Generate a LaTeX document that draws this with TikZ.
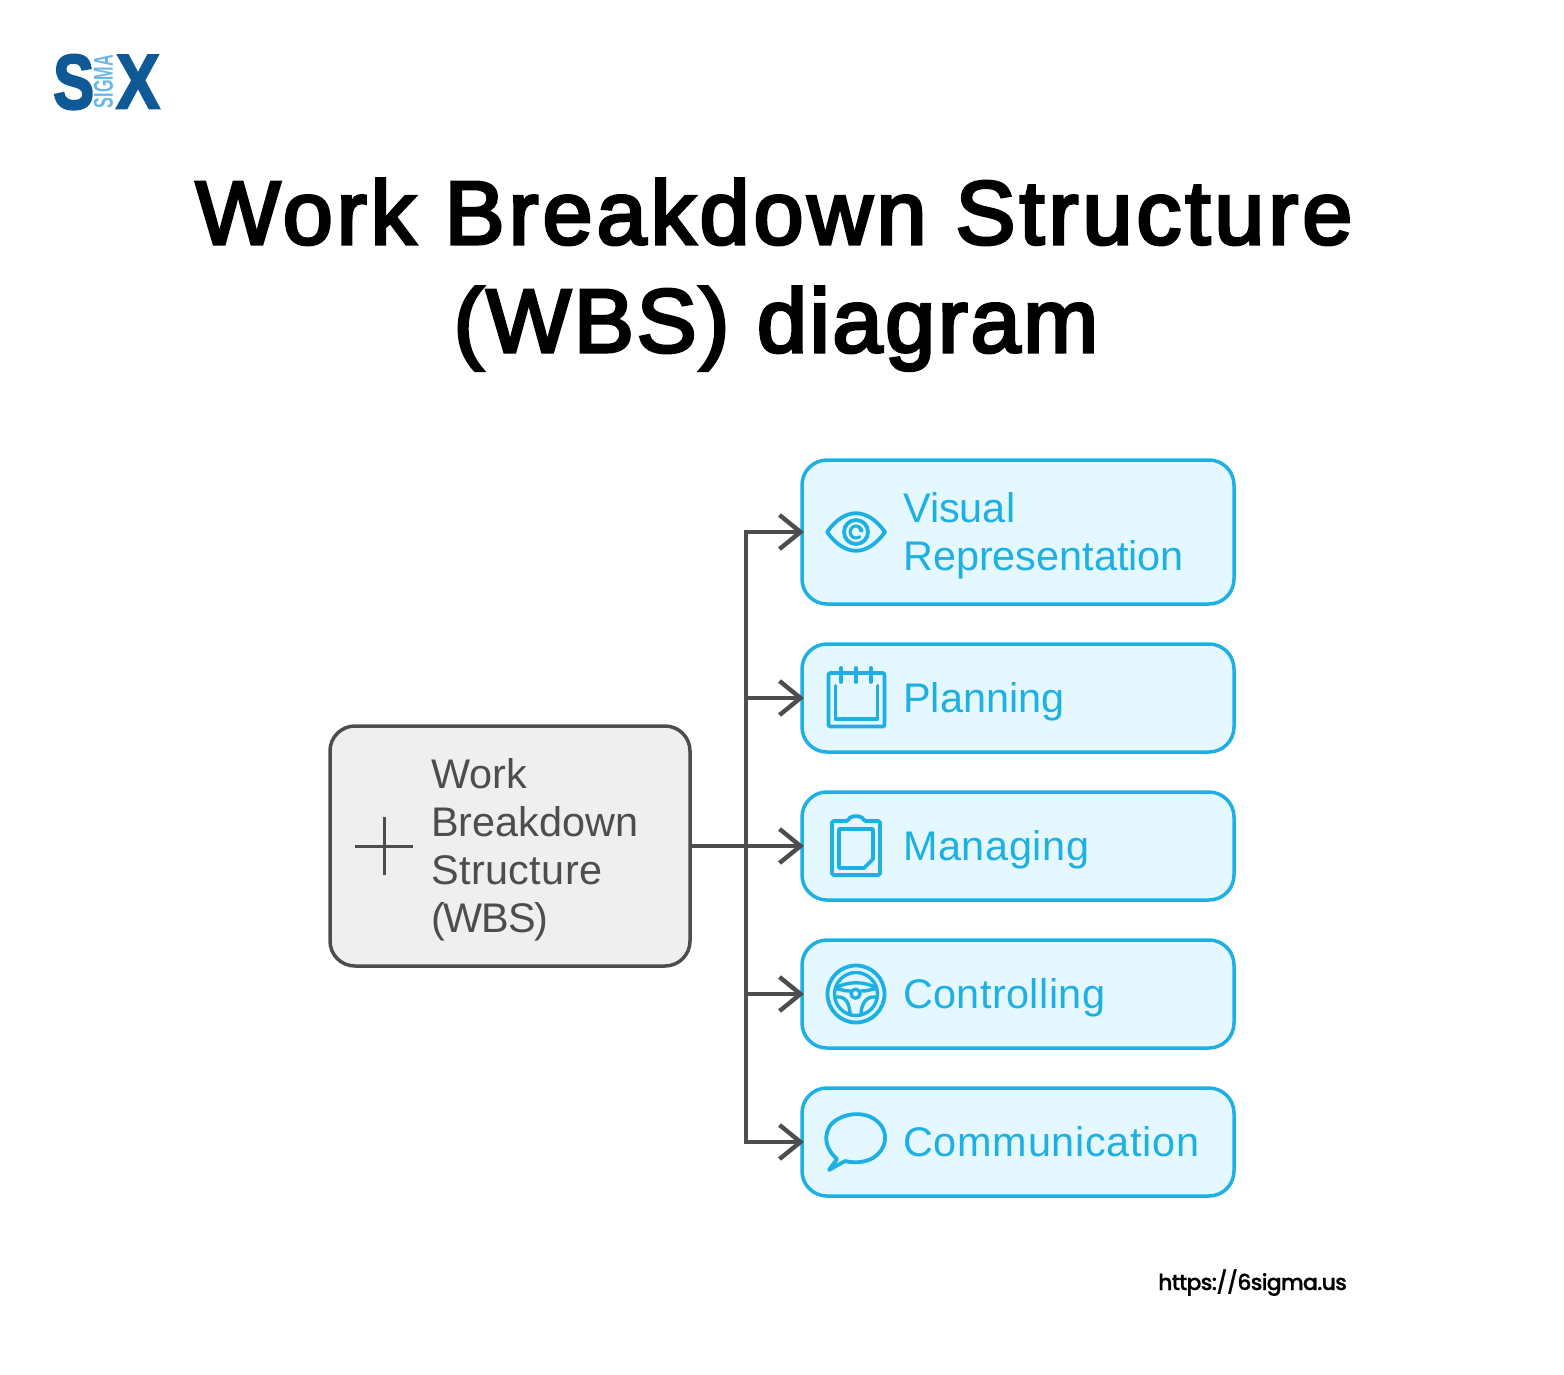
\documentclass[tikz,border=0pt]{standalone}
\usepackage{fontspec}
\usepackage{graphicx}
\usetikzlibrary{arrows.meta}
\setmainfont{Liberation Sans}
\newfontfamily\logofont[FakeBold=3]{Liberation Sans Bold}
\newfontfamily\titlefonta[FakeBold=3.5,LetterSpace=4.4]{Liberation Sans}
\newfontfamily\titlefontb[FakeBold=3.5,LetterSpace=3]{Liberation Sans}
\newfontfamily\urlfont[UprightFont=* Medium,FakeBold=0.6,LetterSpace=-3.5]{Poppins}
\definecolor{bluel}{HTML}{1EB0E3}
\definecolor{bluef}{HTML}{E5F8FF}
\definecolor{grayl}{HTML}{4D4D4D}
\definecolor{grayf}{HTML}{EFEFEF}
\definecolor{logod}{HTML}{0F5A96}
\definecolor{logol}{HTML}{6DB5E6}
\tikzset{
  leaf/.style={draw=bluel,fill=bluef,line width=3.5pt,rounded corners=25pt,minimum width=432pt,outer sep=0pt,inner sep=0pt},
  rootbox/.style={draw=grayl,fill=grayf,line width=3.5pt,rounded corners=25pt,minimum width=360pt,minimum height=240pt,outer sep=0pt,inner sep=0pt},
  leaftext/.style={anchor=west,inner sep=0pt,text=bluel,align=left,font=\fontsize{41.4}{48}\selectfont},
  roottext/.style={anchor=west,inner sep=0pt,text=grayl,align=left,font=\fontsize{41.4}{48}\selectfont},
  conn/.style={draw=grayl,line width=4pt,shorten >=-2pt,-{Straight Barb[length=21pt,width=34pt,line width=4.4pt]}},
  ico/.style={draw=bluel,line width=3.8pt,line cap=round,line join=round},
  titletext/.style={anchor=base,inner sep=0pt}
}
\newcommand{\spc}[2]{{\addfontfeature{LetterSpace=#1}#2}}
\begin{document}
\begin{tikzpicture}[x=1pt,y=-1pt]
\useasboundingbox (0,0) rectangle (1564,1374);
% logo
\node[anchor=north west,inner sep=0pt,text=logod] (logoS) at (53,54.5) {\resizebox{41pt}{54pt}{\logofont S}};
\node[anchor=north west,inner sep=0pt,text=logod] (logoX) at (116,55) {\resizebox{43.5pt}{53pt}{\logofont X}};
\node[inner sep=0pt,text=logol,rotate=90] (logoM) at (103.5,81.5) {\resizebox{53pt}{19pt}{\bfseries SIGMA}};
% title
\node[titletext,font=\titlefonta\fontsize{90}{108}\selectfont] (t1) at (774,244) {Work Breakdown Structure};
\node[titletext,font=\titlefontb\fontsize{90}{108}\selectfont] (t2) at (776,352) {(WBS) diagram};
% boxes
\node[rootbox] (root) at (510,846) {};
\node[leaf,minimum height=144pt] (vis) at (1018,532) {};
\node[leaf,minimum height=108pt] (plan) at (1018,698) {};
\node[leaf,minimum height=108pt] (man) at (1018,846) {};
\node[leaf,minimum height=108pt] (ctrl) at (1018,994) {};
\node[leaf,minimum height=108pt] (comm) at (1018,1142) {};
% texts
\node[roottext] (rootlabel) at (431,850) {Work\\Breakdown\\\spc{1}{Structure}\\\spc{-3}{(WBS)}};
\node[leaftext] (vislabel) at (903,536) {Visual\\Representation};
\node[leaftext] (planlabel) at (903,702) {Planning};
\node[leaftext] (manlabel) at (903,850) {\spc{1.4}{Managing}};
\node[leaftext] (ctrllabel) at (903,998) {\spc{1}{Controlling}};
\node[leaftext] (commlabel) at (903,1142) {\spc{1.8}{Communication}};
\node[anchor=base west,inner sep=0pt,font=\urlfont\fontsize{22}{30}\selectfont] (url) at (1158,1290) {https://6sigma.us};
% connectors
\coordinate (trunk) at (746,846);
\draw[conn] (root.east) -- (man.west);
\draw[conn] (trunk) |- (vis.west);
\draw[conn] (trunk) |- (plan.west);
\draw[conn] (trunk) |- (ctrl.west);
\draw[conn] (trunk) |- (comm.west);
% plus
\draw[draw=grayl,line width=3pt] (355,846) -- (413,846) (384,817) -- (384,875);
% eye
\draw[ico] (827,532) .. controls (845,507) and (867,507) .. (885,532) .. controls (867,557) and (845,557) .. (827,532) -- cycle;
\draw[ico] (856,532) circle (12);
\draw[ico,line width=3pt] (862,531) arc (-10:-310:6);
\draw[ico,line width=2pt] (858,527.5) .. controls (860,528) and (860.5,529.5) .. (860,531);
% calendar
\draw[ico,rounded corners=2pt] (841,673) -- (828.5,673) -- (828.5,726.5) -- (884.5,726.5) -- (884.5,673) -- (871,673);
\draw[ico] (841,673) -- (871,673);
\draw[ico] (841,668) -- (841,682) (856,668) -- (856,682) (871,668) -- (871,682);
\draw[ico] (835.5,686) -- (835.5,719) -- (877.5,719) -- (877.5,686);
% clipboard
\draw[ico,rounded corners=1.5pt] (848,821) .. controls (850,815) and (862,815) .. (864,821) -- (880,821) -- (880,875) -- (832,875) -- (832,821) -- cycle;
\draw[ico] (839,829) -- (873,829) -- (873,859) -- (864,868) -- (839,868) -- cycle;
% wheel
\draw[ico] (856,994) circle (28.5);
\draw[ico,line width=3.4pt] (856,994) circle (21.5);
\draw[ico,line width=3.4pt] (855.5,993.7) circle (4.5);
\draw[ico,line width=3.4pt] (835.5,988) .. controls (848,981) and (864,981) .. (876.5,988);
\draw[ico,line width=3.4pt] (835.5,988) .. controls (841,990) and (846,991) .. (850,991);
\draw[ico,line width=3.4pt] (876.5,988) .. controls (871,990) and (866,991) .. (861,991);
\draw[ico,line width=3.4pt] (836.5,997) .. controls (846,996) and (850,1004) .. (850,1015);
\draw[ico,line width=3.4pt] (875.5,997) .. controls (866,996) and (861,1004) .. (861,1015);
% bubble
\draw[ico] (837,1159) .. controls (822,1146) and (823,1127) .. (838,1119) .. controls (850,1112) and (868,1112) .. (878,1122) .. controls (890,1133) and (886,1150) .. (873,1158) .. controls (864,1163) and (853,1163) .. (845,1161) -- (829,1170) -- cycle;
\end{tikzpicture}
\end{document}
